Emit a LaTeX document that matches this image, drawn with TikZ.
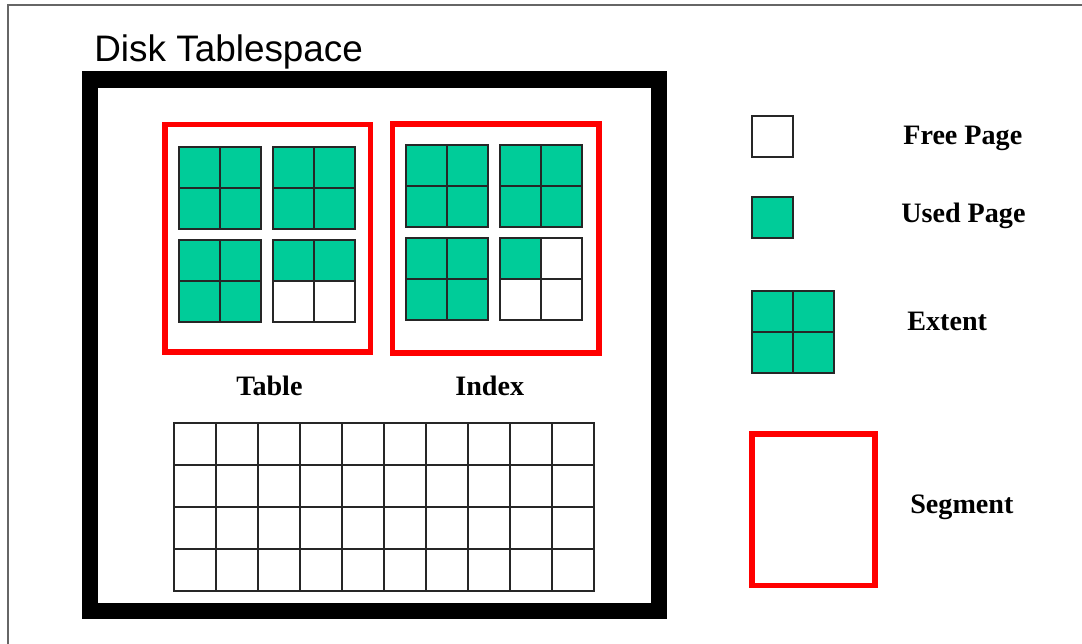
\documentclass[tikz,border=0pt]{standalone}
\usepackage{fontspec}
\setmainfont{Liberation Serif}
\newfontfamily\headfont{Liberation Sans}
\usetikzlibrary{positioning}
\definecolor{usedgreen}{RGB}{0,204,153}
\definecolor{segred}{RGB}{255,0,0}

\begin{document}
\begin{tikzpicture}[
    x=0.02cm, y=-0.02cm,
    pagebox/.style={
        draw=black!85, line width=1.1pt,
        minimum size=0.82cm, inner sep=0pt, outer sep=0pt,
        anchor=north west
    },
    used/.style={pagebox, fill=usedgreen},
    free/.style={pagebox, fill=white},
    segbox/.style={draw=segred, line width=3.1pt},
    keytext/.style={
        font=\fontsize{16}{18}\selectfont\bfseries,
        inner sep=0pt, anchor=base west
    }
]
    \useasboundingbox (0,0) rectangle (1082,643);

    % Outer frame and title ===========================
    \draw[line width=0.85pt, draw=black!60] (8,5) rectangle (1120,680);
    \node[font=\headfont\fontsize{21}{24}\selectfont, anchor=base west, inner sep=0pt]
        (title) at (94,61) {Disk Tablespace};
    \draw[line width=9.35pt] (90,79.5) rectangle (659,611);

    % The Segments ===========================
    \draw[segbox] (165,124.5) rectangle (370.5,352);
    \draw[segbox] (392.5,124) rectangle (599,353);

    % Extents: four pages each ====================
    \foreach \name/\x/\y/\a/\b/\c/\d in {
        tab1/179/147/used/used/used/used,
        tab2/273/147/used/used/used/used,
        tab3/179/240/used/used/used/used,
        tab4/273/240/used/used/free/free,
        idx1/406/145/used/used/used/used,
        idx2/500/145/used/used/used/used,
        idx3/406/238/used/used/used/used,
        idx4/500/238/used/free/free/free,
        key/752/291/used/used/used/used}{
        \node[\a] (\name-a) at (\x,\y) {};
        \node[\b] (\name-b) at (\name-a.north east) {};
        \node[\c] (\name-c) at (\name-a.south west) {};
        \node[\d] (\name-d) at (\name-c.north east) {};
    }

    \node[keytext] (tablename) at (236,395) {Table};
    \node[keytext] (indexname) at (455,395) {Index};

    % Free pages of the tablespace ==================
    \foreach \c in {0,...,9}
        \foreach \r in {0,...,3}
            \node[free, minimum width=0.84cm, minimum height=0.837cm]
                (grid-\c-\r) at (174.3+42*\c, 423.3+41.85*\r) {};

    % Legend ==================
    \node[free] (freekey) at (752,116) {};
    \node[used] (usedkey) at (752,197) {};
    \draw[segbox] (752,434) rectangle (875,585.5);

    \node[keytext] (freetext) at (903,144) {Free Page};
    \node[keytext] (usedtext) at (901,222.5) {Used Page};
    \node[keytext] (extenttext) at (907,330) {Extent};
    \node[keytext] (segmenttext) at (910,513) {Segment};

\end{tikzpicture}
\end{document}
